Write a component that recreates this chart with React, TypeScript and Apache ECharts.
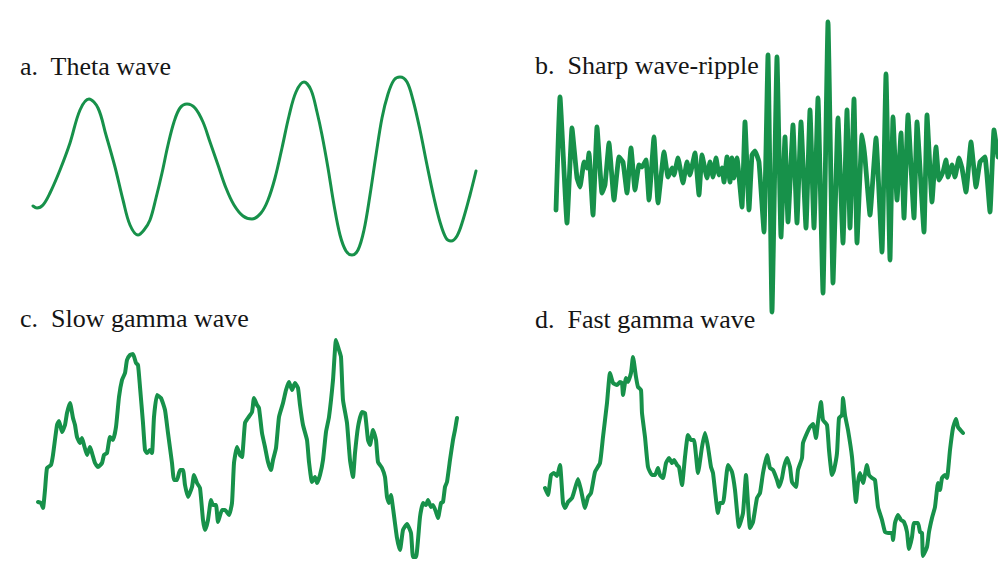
import React, { useEffect, useRef } from "react";
import * as echarts from "echarts";

// Panel titles
const titles = ["a.  Theta wave", "b.  Sharp wave-ripple", "c.  Slow gamma wave", "d.  Fast gamma wave"];

// [time, amplitude] samples
const thetaWave: number[][] = [
  [0,-40],[4,-42],[10,-39],[17,-27],[27,-4],[37,23],[47,56],[56,67],[65,58],[73,31],
  [82,-1],[90,-34],[97,-59],[105,-69],[111,-64],[117,-54],[123,-32],[129,-7],[135,21],[141,44],
  [147,58],[154,62],[162,58],[170,44],[177,24],[185,1],[193,-22],[201,-39],[210,-50],[219,-53],
  [228,-47],[235,-34],[242,-12],[249,18],[256,50],[263,74],[271,84],[278,76],[284,54],[289,31],
  [295,-2],[301,-39],[307,-69],[313,-85],[319,-89],[325,-84],[331,-64],[337,-29],[343,11],[349,48],
  [355,72],[361,86],[367,89],[374,84],[380,66],[387,36],[394,1],[401,-32],[407,-56],[413,-72],
  [418,-75],[424,-70],[430,-54],[437,-29],[443,-5]
];

const sharpWaveRipple: number[][] = [
  [0,-43],[4,70],[11,-56],[16,39],[21,-11],[24,-20],[28,5],[31,-1],[33,14],[37,-48],
  [41,40],[46,-26],[49,-18],[53,24],[58,-33],[63,10],[67,5],[71,-26],[75,19],[79,-23],
  [83,2],[86,0],[90,7],[93,-33],[98,30],[102,-36],[108,15],[112,-10],[116,-1],[118,-8],
  [122,9],[127,-16],[131,5],[134,-8],[139,14],[143,-28],[146,12],[151,-11],[154,5],[157,-10],
  [160,9],[163,-8],[166,-1],[168,-15],[171,10],[174,-15],[176,9],[178,-11],[181,9],[186,-40],
  [189,45],[193,-43],[196,12],[199,16],[203,5],[208,-65],[212,112],[216,-145],[221,110],[225,-70],
  [229,30],[232,-55],[237,42],[241,-56],[245,45],[250,-61],[254,57],[258,-61],[262,69],[267,-126],
  [272,145],[277,-116],[282,49],[287,-76],[291,57],[294,-61],[298,68],[301,-76],[306,32],[309,9],
  [314,-48],[320,29],[326,-85],[330,93],[334,-93],[337,50],[341,-33],[345,34],[348,-51],[352,52],
  [358,-51],[361,45],[368,-65],[371,52],[376,-35],[380,20],[383,-13],[387,-5],[390,7],[392,-10],
  [396,2],[399,-10],[403,9],[406,-1],[410,-25],[415,25],[420,-20],[424,5],[429,10],[434,-45],
  [438,37],[442,10]
];

const slowGamma: number[][] = [
  [0,-47],[3,-48],[5,-53],[7,-35],[9,-13],[13,-10],[15,0],[19,30],[21,34],[24,23],
  [27,30],[29,42],[32,52],[35,37],[37,30],[39,18],[42,12],[44,17],[46,10],[49,0],
  [52,8],[54,2],[57,-8],[60,-12],[64,-8],[66,0],[69,2],[72,18],[75,15],[78,28],
  [81,58],[84,75],[87,82],[89,95],[92,100],[95,101],[98,92],[100,90],[102,68],[105,32],
  [107,5],[109,2],[112,5],[114,2],[116,38],[119,60],[123,57],[127,45],[130,22],[134,-8],
  [136,-25],[139,-25],[142,-15],[145,-15],[147,-30],[150,-42],[154,-32],[156,-20],[159,-28],[162,-33],
  [165,-65],[167,-75],[170,-65],[173,-45],[175,-50],[178,-50],[180,-67],[184,-55],[187,-55],[191,-60],
  [194,-48],[196,-8],[199,8],[202,0],[204,-2],[207,32],[210,37],[214,43],[216,57],[219,50],
  [221,47],[224,22],[227,8],[230,-7],[233,-15],[235,-5],[238,7],[241,38],[245,52],[248,65],
  [251,73],[254,65],[257,72],[260,67],[262,50],[265,30],[269,15],[271,-7],[274,-27],[277,-22],
  [279,-28],[282,-20],[285,-5],[288,23],[291,38],[295,75],[298,115],[301,105],[303,98],[305,55],
  [309,32],[312,-5],[315,-22],[317,2],[320,28],[324,43],[327,42],[330,15],[332,10],[335,25],
  [338,15],[340,-7],[344,-13],[347,-22],[349,-42],[351,-48],[353,-40],[355,-53],[359,-83],[362,-95],
  [365,-75],[369,-69],[373,-78],[375,-102],[378,-102],[382,-62],[385,-48],[388,-50],[390,-45],[393,-52],
  [395,-50],[398,-57],[400,-63],[403,-48],[405,-47],[407,-32],[409,-27],[412,-5],[415,15],[417,25],
  [419,37]
];

const fastGamma: number[][] = [
  [0,-33],[3,-40],[6,-20],[9,-18],[12,-21],[15,-10],[18,-48],[20,-53],[23,-47],[27,-43],
  [29,-37],[33,-24],[36,-35],[40,-53],[43,-42],[46,-38],[50,-17],[55,-8],[58,18],[62,52],
  [65,82],[68,72],[72,70],[75,73],[77,72],[78,60],[81,77],[83,73],[86,82],[88,98],
  [91,78],[93,68],[96,65],[97,42],[100,18],[103,-12],[107,-20],[110,-20],[113,-13],[115,-20],
  [118,-23],[121,-8],[124,-3],[127,-8],[129,-5],[132,-10],[134,-12],[137,-30],[140,-2],[143,20],
  [146,15],[149,15],[153,-18],[157,8],[160,22],[163,8],[166,-12],[168,-18],[173,-58],[175,-48],
  [178,-48],[183,-10],[187,-17],[190,-35],[194,-72],[198,-58],[201,-20],[205,-73],[208,-67],[212,-43],
  [215,-38],[218,-18],[222,0],[225,-13],[228,-15],[232,-25],[234,-32],[237,-23],[239,-12],[242,-3],
  [245,-12],[247,-27],[251,-32],[253,-15],[257,-3],[258,12],[262,22],[265,28],[268,31],[271,17],
  [273,33],[276,53],[278,35],[282,30],[284,5],[287,-20],[289,-15],[292,2],[294,37],[297,40],
  [298,57],[300,40],[303,25],[307,-2],[311,-47],[313,-27],[315,-18],[318,-28],[322,-10],[324,-20],
  [327,-23],[330,-25],[333,-52],[337,-65],[340,-77],[343,-78],[347,-78],[348,-85],[350,-68],[353,-60],
  [356,-65],[359,-67],[362,-77],[364,-94],[367,-82],[369,-68],[373,-68],[375,-77],[377,-78],[378,-101],
  [382,-92],[384,-77],[387,-63],[390,-52],[393,-28],[395,-35],[397,-23],[400,-20],[402,-23],[405,5],
  [408,27],[411,36],[413,28],[418,22]
];

const GREEN = "#17914a";

export default function App() {
  const ref = useRef<HTMLDivElement>(null);
  useEffect(() => {
    if (!ref.current) return;
    const chart = echarts.init(ref.current, undefined, { renderer: "svg" });

    const panels = [
      { data: thetaWave, left: 33, top: 66, width: 443, height: 200, tMax: 443, vMin: -100, vMax: 100, lw: 3, smooth: 0.35 },
      { data: sharpWaveRipple, left: 556, top: 17, width: 442, height: 300, tMax: 442, vMin: -150, vMax: 150, lw: 4.8, smooth: 0.1 },
      { data: slowGamma, left: 38, top: 335, width: 420, height: 226, tMax: 420, vMin: -106, vMax: 120, lw: 4, smooth: 0.15 },
      { data: fastGamma, left: 545, top: 345, width: 420, height: 216, tMax: 420, vMin: -106, vMax: 110, lw: 4, smooth: 0.15 },
    ];
    const titlePos = [
      { left: 20, top: 53 },
      { left: 535, top: 52 },
      { left: 20, top: 305 },
      { left: 535, top: 306 },
    ];

    chart.setOption({
      animation: false,
      backgroundColor: "#ffffff",
      title: titles.map((t, i) => ({
        text: t,
        left: titlePos[i].left,
        top: titlePos[i].top,
        padding: 0,
        textStyle: {
          fontFamily: "'Liberation Serif', 'Times New Roman', serif",
          fontSize: 26,
          fontWeight: "normal",
          color: "#151515",
        },
      })),
      grid: panels.map((p) => ({ left: p.left, top: p.top, width: p.width, height: p.height, containLabel: false })),
      xAxis: panels.map((p, i) => ({
        type: "value", gridIndex: i, min: 0, max: p.tMax, show: false, splitLine: { show: false },
      })),
      yAxis: panels.map((p, i) => ({
        type: "value", gridIndex: i, min: p.vMin, max: p.vMax, show: false, splitLine: { show: false },
      })),
      series: panels.map((p, i) => ({
        type: "line",
        xAxisIndex: i,
        yAxisIndex: i,
        data: p.data,
        showSymbol: false,
        symbol: "none",
        smooth: p.smooth,
        clip: false,
        z: 3,
        lineStyle: { color: GREEN, width: p.lw, join: "round", cap: "round" },
      })),
    });
    return () => chart.dispose();
  }, []);
  return <div ref={ref} style={{ position: "fixed", left: 0, top: 0, width: 998, height: 561 }} />;
}
